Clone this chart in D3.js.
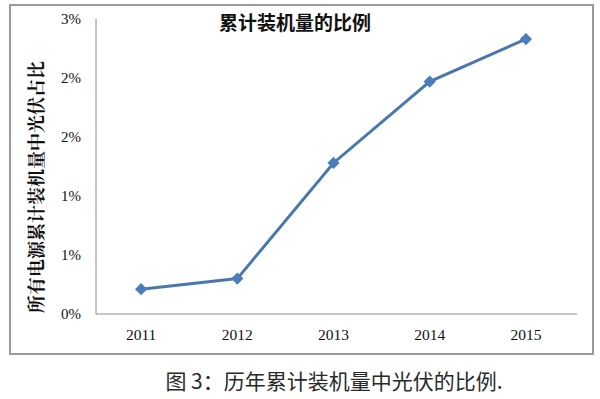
<!DOCTYPE html>
<html>
<head>
<meta charset="utf-8">
<script src="https://cdn.jsdelivr.net/npm/d3@7"></script>
<style>
  body { margin: 0; background: #fff; }
  svg { display: block; }
</style>
</head>
<body>
<svg id="chart" width="600" height="399"></svg>
<script>
// chart data
const years = ["2011", "2012", "2013", "2014", "2015"];
const shares = [0.21, 0.30, 1.28, 1.97, 2.33]; // percent
const yTicks = [0, 0.5, 1, 1.5, 2, 2.5];
const yTickLabels = ["0%", "1%", "1%", "2%", "2%", "3%"];

const svg = d3.select("#chart");
const serif = "'Liberation Serif', 'Times New Roman', serif";
const cjkSerif = "'Noto Serif CJK SC', 'Noto Sans CJK SC', serif";

// outer frame
svg.append("rect")
  .attr("x", 10).attr("y", 5)
  .attr("width", 583).attr("height", 349)
  .attr("fill", "#fff")
  .attr("stroke", "#9a9a9a")
  .attr("stroke-width", 2);

// scales
const x = d3.scaleBand().domain(years).range([93, 574]);
const y = d3.scaleLinear().domain([0, 2.5]).range([314, 19]);

// y axis line
svg.append("line")
  .attr("x1", 96).attr("x2", 96)
  .attr("y1", y(2.5)).attr("y2", y(0))
  .attr("stroke", "#8c8c8c").attr("stroke-width", 1);

// x axis line
svg.append("line")
  .attr("x1", 96).attr("x2", 577)
  .attr("y1", y(0)).attr("y2", y(0))
  .attr("stroke", "#8c8c8c").attr("stroke-width", 1);

// y tick labels
svg.append("g")
  .selectAll("text")
  .data(yTicks)
  .join("text")
    .attr("x", 81)
    .attr("y", d => y(d))
    .attr("dy", "0.35em")
    .attr("text-anchor", "end")
    .style("font-family", serif)
    .style("font-size", "15px")
    .attr("fill", "#111")
    .text((d, i) => yTickLabels[i]);

// x tick labels
svg.append("g")
  .selectAll("text")
  .data(years)
  .join("text")
    .attr("x", d => x(d) + x.bandwidth() / 2)
    .attr("y", 335)
    .attr("dy", "0.35em")
    .attr("text-anchor", "middle")
    .style("font-family", serif)
    .style("font-size", "15.5px")
    .attr("fill", "#111")
    .text(d => d);

// the line
const line = d3.line()
  .x((d, i) => x(years[i]) + x.bandwidth() / 2)
  .y(d => y(d));

svg.append("path")
  .datum(shares)
  .attr("d", line)
  .attr("fill", "none")
  .attr("stroke", "#4a78ae")
  .attr("stroke-width", 3);

// diamond markers
svg.append("g")
  .selectAll("path")
  .data(shares)
  .join("path")
    .attr("transform", (d, i) => `translate(${x(years[i]) + x.bandwidth() / 2},${y(d)})`)
    .attr("d", d3.symbol().type(d3.symbolDiamond2).size(95))
    .attr("fill", "#4a7ebb");

// chart title
svg.append("text")
  .attr("x", 295)
  .attr("y", 23)
  .attr("dy", "0.35em")
  .attr("text-anchor", "middle")
  .style("font-family", "'Noto Sans CJK SC', sans-serif")
  .style("font-size", "19px")
  .style("font-weight", "bold")
  .attr("fill", "#111")
  .text("累计装机量的比例");

// y axis title
svg.append("text")
  .attr("transform", "translate(37,187) rotate(-90)")
  .attr("dy", "0.35em")
  .attr("text-anchor", "middle")
  .style("font-family", cjkSerif)
  .style("font-size", "18px")
  .style("font-weight", "bold")
  .attr("fill", "#111")
  .text("所有电源累计装机量中光伏占比");

// caption below the frame
svg.append("text")
  .attr("x", 334)
  .attr("y", 382)
  .attr("dy", "0.35em")
  .attr("text-anchor", "middle")
  .style("font-family", "'Noto Sans CJK SC', sans-serif")
  .style("font-size", "21px")
  .attr("fill", "#2a2a2a")
  .text("图 3：历年累计装机量中光伏的比例.");
</script>
</body>
</html>
